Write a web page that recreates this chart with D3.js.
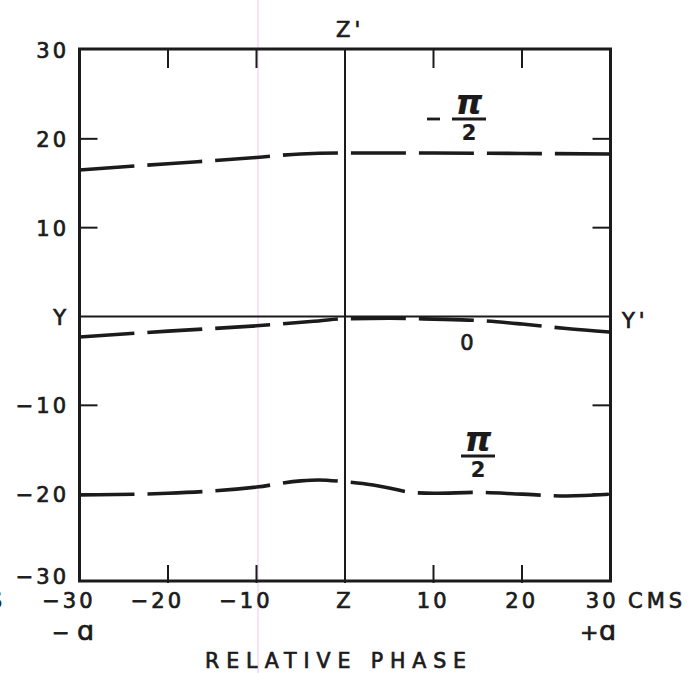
<!DOCTYPE html>
<html>
<head>
<meta charset="utf-8">
<script src="https://cdn.jsdelivr.net/npm/d3@7"></script>
<style>
  html, body { margin: 0; padding: 0; background: #ffffff; }
  svg { display: block; }
  text { font-family: "DejaVu Sans", sans-serif; fill: #1b1b1b; stroke: #1b1b1b; stroke-width: 0.7px; }
</style>
</head>
<body>
<svg id="chart" width="693" height="673"></svg>
<script>
// Axis ticks
const xTicks = [-30, -20, -10, 0, 10, 20, 30];
const xTickLabels = ["\u221230", "\u221220", "\u221210", "Z", "10", "20", "30"];
const yTicks = [-30, -20, -10, 0, 10, 20, 30];
const yTickLabels = ["\u221230", "\u221220", "\u221210", "Y", "10", "20", "30"];
const minorTicks = [-20, -10, 10, 20];

// Curve for phase -π/2
const negHalfPiX = [-30, -20, -10, -5, 0, 10, 20, 30];
const negHalfPiY = [16.5, 17.2, 17.9, 18.3, 18.4, 18.4, 18.35, 18.3];

// Curve for phase 0
const zeroX = [-30, -20, -10, -3, 0, 5, 10, 15, 20, 25, 30];
const zeroY = [-2.3, -1.65, -1.05, -0.5, -0.25, -0.2, -0.3, -0.45, -0.85, -1.35, -1.75];

// Curve for phase π/2
const halfPiX = [-30, -20, -10, -5, -3, 0, 2, 5, 7.5, 10, 15, 20, 25, 30];
const halfPiY = [-20.1, -19.9, -19.2, -18.5, -18.4, -18.6, -18.8, -19.3, -19.8, -19.9, -19.8, -20.0, -20.2, -20.0];

const ink = "#1b1b1b";
const svg = d3.select("#chart");

const x = d3.scaleLinear().domain([-30, 30]).range([79.5, 610.5]);
const y = d3.scaleLinear().domain([-30, 30]).range([583, 50]);

// faint vertical rule through -10
svg.append("line")
  .attr("x1", x(-10) + 1.5).attr("x2", x(-10) + 1.5)
  .attr("y1", 0).attr("y2", 673)
  .attr("stroke", "#f6d8f6").attr("stroke-width", 1.5);

// frame
svg.append("rect")
  .attr("x", x(-30)).attr("y", y(30) - 1)
  .attr("width", x(30) - x(-30)).attr("height", y(-30) - y(30) - 1)
  .attr("fill", "none").attr("stroke", ink).attr("stroke-width", 3);

// Z–Z' and Y–Y' reference lines
svg.append("line")
  .attr("x1", x(0)).attr("x2", x(0)).attr("y1", y(30)).attr("y2", y(-30))
  .attr("stroke", ink).attr("stroke-width", 2);
svg.append("line")
  .attr("x1", x(-30)).attr("x2", x(30)).attr("y1", y(0)).attr("y2", y(0))
  .attr("stroke", ink).attr("stroke-width", 2);

// inward tick marks on all four sides
const tickLen = 18;
const ticks = svg.append("g").attr("stroke", ink).attr("stroke-width", 2);
minorTicks.forEach(v => {
  ticks.append("line").attr("x1", x(v)).attr("x2", x(v)).attr("y1", y(30)).attr("y2", y(30) + tickLen);
  ticks.append("line").attr("x1", x(v)).attr("x2", x(v)).attr("y1", y(-30)).attr("y2", y(-30) - tickLen);
  ticks.append("line").attr("x1", x(-30)).attr("x2", x(-30) + tickLen).attr("y1", y(v)).attr("y2", y(v));
  ticks.append("line").attr("x1", x(30)).attr("x2", x(30) - tickLen).attr("y1", y(v)).attr("y2", y(v));
});

// y tick labels
svg.append("g").selectAll("text")
  .data(yTicks)
  .join("text")
  .attr("x", 69)
  .attr("y", d => y(d) + (d === -30 ? 1 : 8))
  .attr("text-anchor", "end")
  .attr("font-size", 21)
  .attr("letter-spacing", 3)
  .text((d, i) => yTickLabels[i]);

// x tick labels: numerals centred on their tick, minus sign hanging left
svg.append("g").selectAll("text")
  .data(xTicks)
  .join("text")
  .attr("x", (d, i) => xTickLabels[i] === "Z" ? x(d) : x(d) + 16 - (d === 30 ? 8 : 0))
  .attr("y", 608)
  .attr("text-anchor", (d, i) => xTickLabels[i] === "Z" ? "middle" : "end")
  .attr("font-size", 21)
  .attr("letter-spacing", 3)
  .text((d, i) => xTickLabels[i]);

// units and end markers
svg.append("text").attr("x", 628).attr("y", 608).attr("font-size", 21).attr("letter-spacing", 4).text("CMS");
svg.append("text").attr("x", 6).attr("y", 608).attr("text-anchor", "end").attr("font-size", 21).attr("letter-spacing", 4).text("CMS");
svg.append("text").attr("x", 52).attr("y", 640).attr("font-size", 21).text("\u2212");
svg.append("text").attr("x", 77).attr("y", 640).attr("font-size", 27).text("\u0251");
svg.append("text").attr("x", 580).attr("y", 640).attr("font-size", 22).text("+");
svg.append("text").attr("x", 599).attr("y", 640).attr("font-size", 27).text("\u0251");

// axis end letters
svg.append("text").attr("x", 336).attr("y", 37).attr("font-size", 21).attr("letter-spacing", 4).text("Z'");
svg.append("text").attr("x", 622).attr("y", 328).attr("font-size", 21).attr("letter-spacing", 4).text("Y'");

// axis title
svg.append("text")
  .attr("x", 205).attr("y", 668)
  .attr("font-size", 20.5)
  .attr("letter-spacing", 6.9)
  .text("RELATIVE PHASE");

// dashed phase curves
const line = d3.line()
  .x(d => x(d[0]))
  .y(d => y(d[1]))
  .curve(d3.curveMonotoneX);

const series = [negHalfPiX, zeroX, halfPiX].map((xs, k) => ({
  xs, ys: [negHalfPiY, zeroY, halfPiY][k]
}));
svg.append("g").selectAll("path")
  .data(series)
  .join("path")
  .attr("d", s => line(s.xs.map((v, i) => [v, s.ys[i]])))
  .attr("fill", "none")
  .attr("stroke", ink)
  .attr("stroke-width", 3.6)
  .attr("stroke-dasharray", "55,13");

// curve labels: -π/2, 0, π/2
function fraction(cx, barY, minus) {
  const g = svg.append("g");
  if (minus) {
    g.append("line").attr("x1", cx - 42).attr("x2", cx - 29).attr("y1", barY).attr("y2", barY)
      .attr("stroke", ink).attr("stroke-width", 2.8);
  }
  g.append("text").attr("x", cx).attr("y", barY - 5).attr("text-anchor", "middle")
    .attr("font-size", 34).attr("font-style", "italic").attr("font-weight", "bold")
    .style("stroke-width", "0.2px").text("\u03c0");
  g.append("line").attr("x1", cx - 17).attr("x2", cx + 17).attr("y1", barY).attr("y2", barY)
    .attr("stroke", ink).attr("stroke-width", 2.8);
  g.append("text").attr("x", cx).attr("y", barY + 21).attr("text-anchor", "middle")
    .attr("font-size", 21).attr("font-weight", "bold").style("stroke-width", "0.2px").text("2");
}
fraction(469, 119, true);
fraction(478, 456, false);
svg.append("text").attr("x", 467).attr("y", 350).attr("text-anchor", "middle").attr("font-size", 21).text("0");
</script>
</body>
</html>
